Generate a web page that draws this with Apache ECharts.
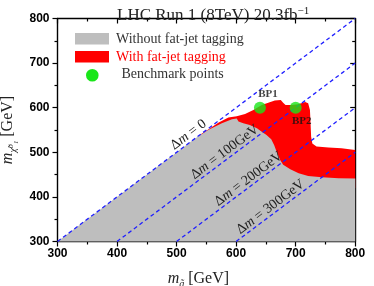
<!DOCTYPE html>
<html><head><meta charset="utf-8">
<script src="https://cdn.jsdelivr.net/npm/echarts@6/dist/echarts.min.js"></script>
<style>html,body{margin:0;padding:0;background:#fff}#c{width:374px;height:286px}</style>
</head><body><div id="c"></div>
<script>
// ---- data ----
const axisMin = 300, axisMax = 800, axisStep = 100;
const greyRegion = [[300,300],[531,531],[553,550],[576,565],[593,574],[601,576],[604,569],[612,565],[623,561],[635,554],[643,546],[651,539],[659,529],[664,516],[668,501],[674,483],[679,472],[691,462],[705,453],[721,447],[744,444],[772,442],[800,441],[800,300]];
const redRegion = [[538,538],[555,553],[570,566],[587,578],[601,581],[615,586],[629,595],[643,606],[654,611],[665,616],[675,617],[679,611],[683,606],[693,606],[704,608],[716,613],[721,610],[724,595],[725,565],[726,535],[728,520],[735,513],[755,511],[777,509],[800,505],[800,420],[600,420]];
const diagStart = [[300,300],[400,300],[500,300],[600,300]];
const diagEnd = [[800,800],[800,700],[800,600],[800,500]];
const diagLabelText = ['0','100GeV','200GeV','300GeV'];
const diagLabelPos = [[527,527],[588,488],[628,428],[665,365]];
const benchNames = ['BP1','BP2'];
const benchX = [640,700];
const benchY = [600,600];

const SERIF = "'Liberation Serif','DejaVu Serif',serif";
const SANS = "'Liberation Sans',Arial,sans-serif";
const C_GREY = '#bebebe', C_RED = '#ff0000', C_BLUE = '#2020ff', C_GREEN = '#19e619';

function polySeries(points, color, z){
  return {type:'custom', coordinateSystem:'cartesian2d', silent:true, z:z,
    data:[points[0]],
    renderItem:function(params, api){
      return {type:'polygon', shape:{points: points.map(p=>api.coord(p))}, style:{fill:color}};
    }};
}

const series = [];
series.push(polySeries(redRegion, C_RED, 1));
series.push(polySeries(greyRegion, C_GREY, 2));
for (let i=0;i<diagStart.length;i++){
  series.push({type:'line', z:3, silent:true, symbol:'none', data:[diagStart[i], diagEnd[i]],
    lineStyle:{color:C_BLUE, width:1.3, type:[4,3]}});
}
series.push({type:'custom', coordinateSystem:'cartesian2d', silent:true, z:4,
  data: diagLabelPos,
  renderItem:function(params, api){
    const g = api.value(0), c = api.value(1);
    const p = api.coord([g,c]), q = api.coord([g+100,c+100]);
    const ang = Math.atan2(p[1]-q[1], q[0]-p[0]);
    const off = 7;
    return {type:'text', x: p[0]-off*Math.sin(ang), y: p[1]-off*Math.cos(ang), rotation: ang,
      style:{text:'{a|Δ}{i|m}{a| = '+diagLabelText[params.dataIndex]+'}', align:'center', verticalAlign:'middle', fill:'#222',
        rich:{a:{fontFamily:SERIF, fontSize:14, fill:'#222'}, i:{fontFamily:SERIF, fontSize:14, fontStyle:'italic', fill:'#222'}}}};
  }});
series.push({type:'scatter', z:5, silent:true, symbolSize:12, itemStyle:{color:C_GREEN},
  data: benchX.map((x,i)=>({value:[x, benchY[i]], name:benchNames[i],
    label:{show:true, formatter:benchNames[i], position: i===0?'top':'bottom', offset: i===0?[8,0]:[6,-1],
      fontFamily:SERIF, fontWeight:'bold', fontSize:11, color:'#111', distance: i===0?2:3}}))});

const axisCommon = {type:'value', min:axisMin, max:axisMax, interval:axisStep, splitLine:{show:false},
  axisLine:{show:true, onZero:false, lineStyle:{color:'#000', width:1.4}}};
const option = {
  animation:false,
  title:{text:'{a|LHC Run 1 (8TeV) 20.3fb}{s|−1}', left:112, top:1,
    textStyle:{fontWeight:'normal', rich:{a:{fontFamily:SERIF, fontWeight:'normal', fontSize:17, color:'#222', lineHeight:20}, s:{fontFamily:SERIF, fontWeight:'normal', fontSize:11, color:'#222', verticalAlign:'top', lineHeight:20, padding:[0,0,8,0]}}}},
  grid:{left:57.5, right:18.8, top:18.5, bottom:44.5, containLabel:false, outerBoundsMode:'none'},
  xAxis:[
    Object.assign({}, axisCommon, {position:'bottom',
      axisTick:{show:true, inside:false, length:5, lineStyle:{color:'#000', width:1.2}},
      minorTick:{show:true, splitNumber:2, length:3, lineStyle:{color:'#000', width:1.2}},
      axisLabel:{show:true, margin:6, fontFamily:SANS, fontWeight:'bold', fontSize:12, color:'#000'},
      name:'{i|m}{s|g\u0303}{a| [GeV]}', nameLocation:'middle', nameGap:26,
      nameTextStyle:{padding:[0,16,0,0], rich:{i:{fontFamily:SERIF, fontStyle:'italic', fontSize:16, color:'#222', lineHeight:18},
        s:{fontFamily:SERIF, fontStyle:'italic', fontSize:10, color:'#222', verticalAlign:'bottom', lineHeight:22},
        a:{fontFamily:SERIF, fontSize:16, color:'#222', lineHeight:18}}}}),
    Object.assign({}, axisCommon, {position:'top',
      axisTick:{show:true, inside:true, length:5, lineStyle:{color:'#000', width:1.2}},
      minorTick:{show:true, splitNumber:2, length:3, lineStyle:{color:'#000', width:1.2}},
      axisLabel:{show:false}})
  ],
  yAxis:[
    Object.assign({}, axisCommon, {position:'left',
      axisTick:{show:true, inside:false, length:5, lineStyle:{color:'#000', width:1.2}},
      minorTick:{show:true, splitNumber:2, length:3, lineStyle:{color:'#000', width:1.2}},
      axisLabel:{show:true, margin:8, fontFamily:SANS, fontWeight:'bold', fontSize:12, color:'#000'},
      name:'{i|m}{s|χ\u0303⁰₁}{a| [GeV]}', nameLocation:'middle', nameGap:36,
      nameTextStyle:{rich:{i:{fontFamily:SERIF, fontStyle:'italic', fontSize:16, color:'#222', lineHeight:18},
        s:{fontFamily:SERIF, fontStyle:'italic', fontSize:10, color:'#222', verticalAlign:'bottom', lineHeight:22},
        a:{fontFamily:SERIF, fontSize:16, color:'#222', lineHeight:18}}}}),
    Object.assign({}, axisCommon, {position:'right',
      axisTick:{show:true, inside:true, length:5, lineStyle:{color:'#000', width:1.2}},
      minorTick:{show:true, splitNumber:2, length:3, lineStyle:{color:'#000', width:1.2}},
      axisLabel:{show:false}})
  ],
  graphic:[
    {type:'rect', shape:{x:75, y:33, width:34, height:11.5}, style:{fill:C_GREY}},
    {type:'text', x:116, y:39, style:{text:'Without fat-jet tagging', fontFamily:SERIF, fontSize:14, fill:'#333', verticalAlign:'middle'}},
    {type:'rect', shape:{x:75, y:51, width:34, height:11.5}, style:{fill:C_RED}},
    {type:'text', x:116, y:57, style:{text:'With fat-jet tagging', fontFamily:SERIF, fontSize:14, fill:'#ff0000', verticalAlign:'middle'}},
    {type:'circle', shape:{cx:92.3, cy:75.3, r:6.3}, style:{fill:C_GREEN}},
    {type:'text', x:121.5, y:74.5, style:{text:'Benchmark points', fontFamily:SERIF, fontSize:14, fill:'#333', verticalAlign:'middle'}}
  ],
  series: series
};
const chart = echarts.init(document.getElementById('c'), null, {renderer:'canvas'});
chart.setOption(option);
</script></body></html>
